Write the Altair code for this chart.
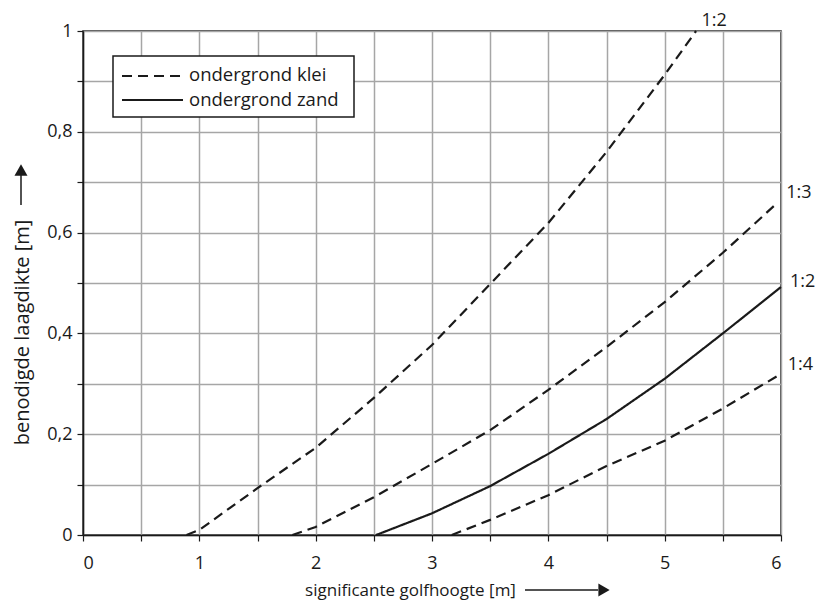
import altair as alt
import pandas as pd

# --- data ---
klei_12_x = [0.89, 1.0, 1.5, 2.0, 2.5, 3.0, 3.5, 4.0, 4.5, 5.0, 5.27]
klei_12_y = [0.0, 0.01, 0.093, 0.173, 0.272, 0.377, 0.498, 0.619, 0.76, 0.913, 1.0]

klei_13_x = [1.8, 2.0, 2.5, 3.0, 3.5, 4.0, 4.5, 5.0, 5.5, 5.95]
klei_13_y = [0.0, 0.016, 0.075, 0.141, 0.208, 0.288, 0.373, 0.462, 0.56, 0.655]

zand_12_x = [2.52, 3.0, 3.5, 4.0, 4.5, 5.0, 5.5, 6.0]
zand_12_y = [0.0, 0.043, 0.097, 0.161, 0.23, 0.31, 0.40, 0.492]

klei_14_x = [3.17, 3.5, 4.0, 4.5, 5.0, 5.5, 5.98]
klei_14_y = [0.0, 0.03, 0.079, 0.137, 0.187, 0.251, 0.317]

soil_names = ["ondergrond klei", "ondergrond zand"]
x_title = "significante golfhoogte [m]"
y_title = "benodigde laagdikte [m]"

curves = [
    ("klei 1:2", soil_names[0], "1:2", klei_12_x, klei_12_y),
    ("klei 1:3", soil_names[0], "1:3", klei_13_x, klei_13_y),
    ("zand 1:2", soil_names[1], "1:2", zand_12_x, zand_12_y),
    ("klei 1:4", soil_names[0], "1:4", klei_14_x, klei_14_y),
]

rows = []
for cid, soil, slope, xs, ys in curves:
    for i, (xv, yv) in enumerate(zip(xs, ys)):
        rows.append({"curve": cid, "soil": soil, "slope": slope, "x": xv, "y": yv, "i": i})
df = pd.DataFrame(rows)

ends = pd.DataFrame([
    {"curve": cid, "slope": slope, "x": xs[-1], "y": ys[-1]}
    for cid, soil, slope, xs, ys in curves
])

FONT = "Open Sans"
INK = "#1a1a1a"
DASH = [10, 6]
W, H = 698, 504

xscale = alt.Scale(domain=[0, 6], nice=False, zero=False)
yscale = alt.Scale(domain=[0, 1], nice=False)

x_ticks = [i * 0.5 for i in range(13)]
y_ticks = [round(i * 0.1, 1) for i in range(11)]

lines = alt.Chart(df).mark_line(color=INK, strokeWidth=2.2).encode(
    x=alt.X("x:Q", scale=xscale, axis=alt.Axis(
        values=x_ticks,
        labelExpr="datum.value % 1 == 0 ? format(datum.value, '~g') : ''",
        labelPadding=13,
        title=x_title, titleX=327, titleY=55, titleBaseline="middle",
        titleAlign="center", titleFontSize=17,
    )),
    y=alt.Y("y:Q", scale=yscale, axis=alt.Axis(
        values=y_ticks,
        labelExpr="round(datum.value*10) % 2 == 0 ? replace(format(datum.value, '~g'), '.', ',') : ''",
        labelPadding=5,
        title=y_title, titleX=-61, titleY=301, titleBaseline="middle",
        titleAlign="center", titleAngle=270, titleFontSize=20,
    )),
    detail="curve:N",
    order="i:Q",
    strokeDash=alt.StrokeDash("soil:N", scale=alt.Scale(
        domain=soil_names, range=[DASH, [1, 0]]), legend=None),
)

def end_label(curve_id, dx, dy, align):
    return alt.Chart(ends[ends["curve"] == curve_id]).mark_text(
        font=FONT, fontSize=18, color=INK, align=align, baseline="middle",
        dx=dx, dy=dy,
    ).encode(x=alt.X("x:Q", scale=xscale), y=alt.Y("y:Q", scale=yscale), text="slope:N")

lab1 = end_label("klei 1:2", 18, -10, "center")
lab2 = end_label("klei 1:3", 11, -12, "left")
lab3 = end_label("zand 1:2", 9, -5, "left")
lab4 = end_label("klei 1:4", 9, -10, "left")

one = pd.DataFrame({"a": [0]})

# legend box (drawn by hand to match the reference's compact layout)
leg_box = alt.Chart(one).mark_rect(fill="white", stroke=INK, strokeWidth=1.5).encode(
    x=alt.value(30), x2=alt.value(271), y=alt.value(25), y2=alt.value(86))
leg_dash = alt.Chart(one).mark_rule(color=INK, strokeWidth=2.2, strokeDash=DASH).encode(
    x=alt.value(39), x2=alt.value(100), y=alt.value(45))
leg_solid = alt.Chart(one).mark_rule(color=INK, strokeWidth=2.2).encode(
    x=alt.value(39), x2=alt.value(100), y=alt.value(69))
leg_t1 = alt.Chart(pd.DataFrame({"t": [soil_names[0]]})).mark_text(
    font=FONT, fontSize=18.5, color=INK, align="left", baseline="middle").encode(
    x=alt.value(106), y=alt.value(44), text="t:N")
leg_t2 = alt.Chart(pd.DataFrame({"t": [soil_names[1]]})).mark_text(
    font=FONT, fontSize=18.5, color=INK, align="left", baseline="middle").encode(
    x=alt.value(106), y=alt.value(69), text="t:N")

# axis-title arrows
arrow_x_shaft = alt.Chart(one).mark_rule(color=INK, strokeWidth=1.5).encode(
    x=alt.value(442), x2=alt.value(515), y=alt.value(559))
arrow_x_head = alt.Chart(one).mark_point(
    shape="triangle-right", filled=True, color=INK, size=170, opacity=1).encode(
    x=alt.value(521), y=alt.value(559))
arrow_y_shaft = alt.Chart(one).mark_rule(color=INK, strokeWidth=1.5).encode(
    x=alt.value(-62), y=alt.value(174), y2=alt.value(144))
arrow_y_head = alt.Chart(one).mark_point(
    shape="triangle-up", filled=True, color=INK, size=170, opacity=1).encode(
    x=alt.value(-62), y=alt.value(139))

chart = alt.layer(
    lines, lab1, lab2, lab3, lab4,
    leg_box, leg_dash, leg_solid, leg_t1, leg_t2,
    arrow_x_shaft, arrow_x_head, arrow_y_shaft, arrow_y_head,
).properties(
    width=W, height=H,
    autosize=alt.AutoSizeParams(type="none"),
    padding={"left": 75, "top": 23, "right": 34, "bottom": 66},
).configure_view(
    stroke=INK, strokeWidth=1.5,
).configure_axis(
    grid=True, gridColor="#a6a6a6", gridWidth=1.5,
    domainColor=INK, domainWidth=1.5,
    tickColor=INK, tickSize=6, tickWidth=1.2,
    labelFont=FONT, labelFontSize=18, labelColor=INK,
    titleFont=FONT, titleColor=INK, titleFontWeight="normal",
)

chart.save("out.html", embed_options={"renderer": "svg", "actions": False})
